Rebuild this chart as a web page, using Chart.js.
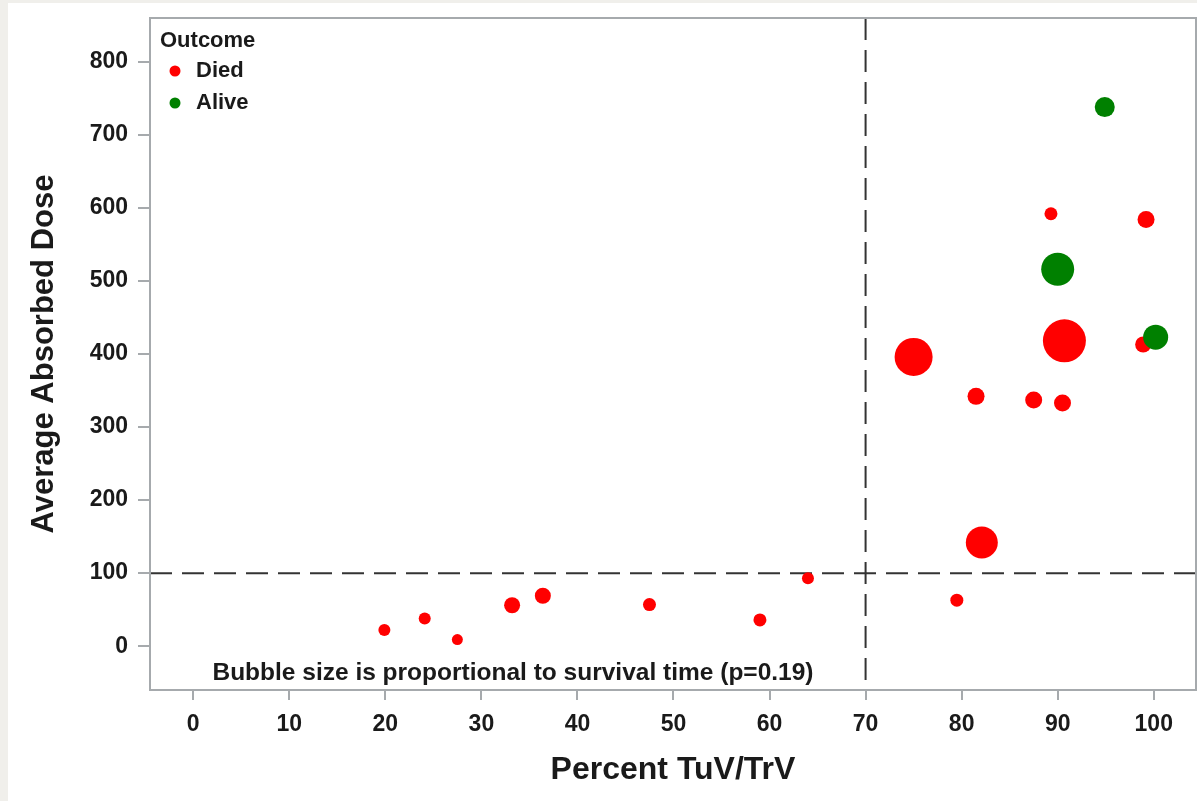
<!DOCTYPE html>
<html>
<head>
<meta charset="utf-8">
<script src="https://cdn.jsdelivr.net/npm/chart.js@4.4.1/dist/chart.umd.min.js"></script>
<style>
  html, body { margin: 0; padding: 0; background: #f0efeb; }
  #wrap { position: absolute; left: 8px; top: 3px; width: 1189px; height: 798px; background: #fff; }
</style>
</head>
<body>
<div id="wrap"><canvas id="chart" width="1189" height="798"></canvas></div>
<script>
// Died
const diedX = [19.9, 24.1, 27.5, 33.2, 36.4, 47.5, 59.0, 64.0, 79.5, 82.1, 75.0, 81.5, 87.5, 90.5, 90.7, 89.3, 99.2, 98.9];
const diedY = [22, 38, 9, 56, 69, 57, 36, 93, 63, 142, 396, 342, 337, 333, 418, 592, 584, 413];
const diedSurvival = [12, 12, 11, 16, 16, 13, 13, 12, 13, 32, 38, 17, 17, 17, 43, 13, 17, 16];

// Alive
const aliveX = [94.9, 90.0, 100.2];
const aliveY = [738, 516, 423];
const aliveSurvival = [20, 33, 25];

const xTicks = [0, 10, 20, 30, 40, 50, 60, 70, 80, 90, 100];
const yTicks = [0, 100, 200, 300, 400, 500, 600, 700, 800];

const xCut = 70;
const yCut = 100;
const note = 'Bubble size is proportional to survival time (p=0.19)';

const FONT = "'Liberation Sans', Arial, sans-serif";
const RED = '#ff0000';
const GREEN = '#008000';
const FRAME = '#a6aaad';

const toPoints = (xs, ys, ss) => xs.map((x, i) => ({ x: x, y: ys[i], r: ss[i] / 2 }));

const framePlugin = {
  id: 'framePlugin',
  beforeDatasetsDraw(chart) {
    const { ctx, chartArea: a, scales } = chart;
    ctx.save();
    ctx.strokeStyle = '#333333';
    ctx.lineWidth = 2;
    ctx.setLineDash([22, 10]);
    const px = scales.x.getPixelForValue(xCut);
    ctx.beginPath();
    ctx.moveTo(px, a.top);
    ctx.lineTo(px, a.bottom);
    ctx.stroke();
    const py = scales.y.getPixelForValue(yCut);
    ctx.beginPath();
    ctx.moveTo(a.left, py);
    ctx.lineTo(a.right, py);
    ctx.stroke();
    ctx.restore();
  },
  afterDraw(chart) {
    const { ctx, chartArea: a, scales } = chart;
    ctx.save();
    // frame
    ctx.strokeStyle = FRAME;
    ctx.lineWidth = 2;
    ctx.strokeRect(a.left, a.top, a.right - a.left, a.bottom - a.top);

    // note
    ctx.fillStyle = '#1a1a1a';
    ctx.font = 'bold 24.5px ' + FONT;
    ctx.textAlign = 'left';
    ctx.textBaseline = 'middle';
    ctx.fillText(note, scales.x.getPixelForValue(2), scales.y.getPixelForValue(-37));

    // legend
    const lx = a.left + 10;
    ctx.font = 'bold 22px ' + FONT;
    ctx.fillText('Outcome', lx, a.top + 23);
    const items = [['Died', RED], ['Alive', GREEN]];
    items.forEach((it, i) => {
      const y = a.top + 53 + i * 32;
      ctx.fillStyle = it[1];
      ctx.beginPath();
      ctx.arc(lx + 15, y, 5.5, 0, Math.PI * 2);
      ctx.fill();
      ctx.fillStyle = '#1a1a1a';
      ctx.font = 'bold 22px ' + FONT;
      ctx.fillText(it[0], lx + 36, y);
    });
    ctx.restore();
  }
};

new Chart(document.getElementById('chart'), {
  type: 'bubble',
  data: {
    datasets: [
      {
        label: 'Alive',
        data: toPoints(aliveX, aliveY, aliveSurvival),
        backgroundColor: GREEN,
        borderWidth: 0,
        order: 1
      },
      {
        label: 'Died',
        data: toPoints(diedX, diedY, diedSurvival),
        backgroundColor: RED,
        borderWidth: 0,
        order: 2
      }
    ]
  },
  options: {
    responsive: false,
    animation: false,
    events: [],
    layout: { autoPadding: false, padding: { left: 0, top: 15, right: 1, bottom: 0 } },
    plugins: {
      legend: { display: false },
      tooltip: { enabled: false }
    },
    scales: {
      x: {
        type: 'linear',
        min: -4.5,
        max: 104.4,
        afterBuildTicks: (s) => { s.ticks = xTicks.map(v => ({ value: v })); },
        afterFit: (s) => { s.height = 111; s.paddingLeft = 0; s.paddingRight = 0; },
        border: { display: false },
        grid: { drawOnChartArea: false, drawTicks: true, tickLength: 10, color: FRAME, lineWidth: 2 },
        ticks: {
          padding: 11,
          maxRotation: 0,
          color: '#1a1a1a',
          font: { family: FONT, size: 23, weight: 'bold' }
        },
        title: {
          display: true,
          text: 'Percent TuV/TrV',
          color: '#1a1a1a',
          padding: { top: 12, bottom: 12 },
          font: { family: FONT, size: 32, weight: 'bold' }
        }
      },
      y: {
        type: 'linear',
        min: -60,
        max: 860,
        afterBuildTicks: (s) => { s.ticks = yTicks.map(v => ({ value: v })); },
        afterFit: (s) => { s.width = 142; s.paddingTop = 0; s.paddingBottom = 0; },
        border: { display: false },
        grid: { drawOnChartArea: false, drawTicks: true, tickLength: 12, color: FRAME, lineWidth: 2 },
        ticks: {
          padding: 10,
          color: '#1a1a1a',
          font: { family: FONT, size: 23, weight: 'bold' }
        },
        title: {
          display: true,
          text: 'Average Absorbed Dose',
          color: '#1a1a1a',
          padding: { top: 18, bottom: 18 },
          font: { family: FONT, size: 31, weight: 'bold' }
        }
      }
    }
  },
  plugins: [framePlugin]
});
</script>
</body>
</html>
